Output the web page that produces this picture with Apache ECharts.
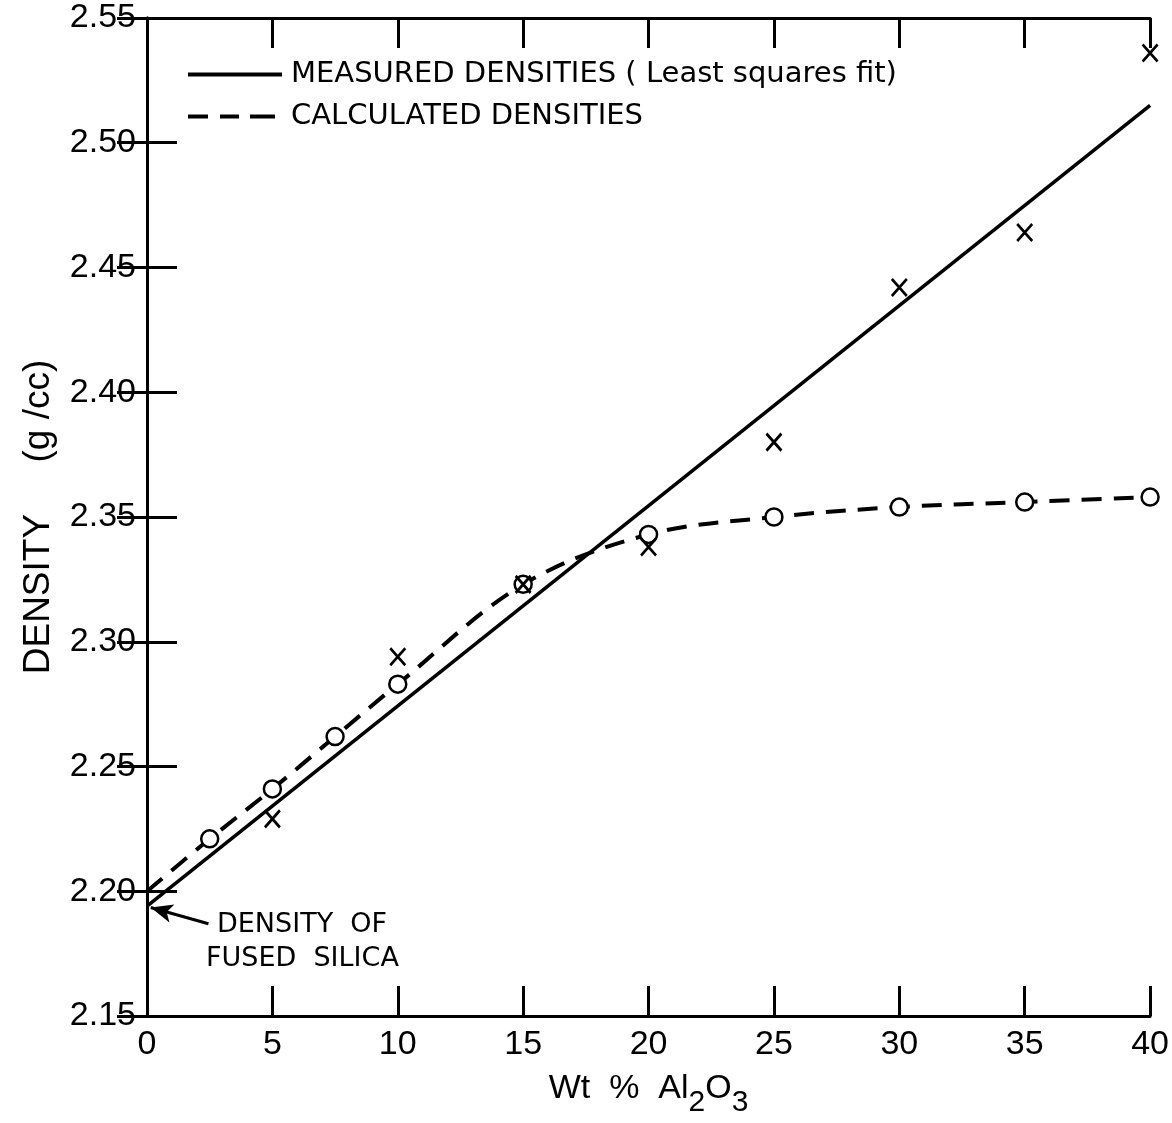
<!DOCTYPE html>
<html>
<head>
<meta charset="utf-8">
<title>Density vs Wt % Al2O3</title>
<script src="https://cdn.jsdelivr.net/npm/echarts@6/dist/echarts.min.js"></script>
<style>
  html, body { margin: 0; padding: 0; background: #fff; }
  #chart { width: 1172px; height: 1123px; }
</style>
</head>
<body>
<div id="chart"></div>
<script>
// wt % Al2O3 and density (g/cc)
var fitX = [0, 40]
var fitY = [2.194, 2.515]
var measuredX = [5, 10, 15, 20, 25, 30, 35, 40]
var measuredY = [2.229, 2.294, 2.323, 2.338, 2.380, 2.442, 2.464, 2.536]
var calcX = [0, 2.5, 5, 7.5, 10, 15, 20, 25, 30, 35, 40]
var calcY = [2.200, 2.221, 2.241, 2.262, 2.283, 2.323, 2.343, 2.350, 2.354, 2.356, 2.358]

var FONT = 'Liberation Sans'
var FONT2 = 'DejaVu Sans'
var myChart = echarts.init(document.getElementById('chart'))

function pairs (xs, ys) {
  return xs.map(function (x, i) { return [x, ys[i]] })
}

var calcPts = pairs(calcX, calcY)
// first point = fused silica start of the curve, no circle there
var calcMarks = calcPts.slice(1)

var axisLine = { show: true, lineStyle: { color: '#000', width: 3 } }
var tick = { show: true, inside: true, length: 30, lineStyle: { color: '#000', width: 3 } }

// legend keys drawn as plain paths (solid bar / three dashes)
var solidIcon = 'path://M0,0h94v4h-94z'
var dashIcon = 'path://M0,0h20v4h-20zM32,0h19v4h-19zM62,0h25v4h-25zM94,0h0v4h0z'

var option = {
  backgroundColor: '#fff',
  animation: false,
  grid: {
    left: 147,
    right: 16,
    top: 18,
    bottom: 105,
    show: false
  },
  legend: {
    left: 183,
    top: 55,
    orient: 'vertical',
    itemWidth: 94,
    itemHeight: 4,
    itemGap: 13,
    symbolKeepAspect: false,
    data: [
      { name: 'MEASURED DENSITIES ( Least squares fit)', icon: solidIcon, itemStyle: { color: '#000' } },
      { name: 'CALCULATED DENSITIES', icon: dashIcon, itemStyle: { color: '#000' } }
    ],
    textStyle: { fontFamily: FONT2, fontSize: 29, color: '#000', padding: [0, 0, 0, 4] }
  },
  xAxis: [{
    type: 'value',
    min: 0,
    max: 40,
    interval: 5,
    position: 'bottom',
    name: '{n|Wt  %  Al}{s|2}{n|O}{s|3}',
    nameLocation: 'middle',
    nameGap: 56,
    nameTextStyle: {
      rich: {
        n: { fontFamily: FONT, fontSize: 34, color: '#000', verticalAlign: 'bottom' },
        s: { fontFamily: FONT, fontSize: 30, color: '#000', padding: [0, 0, -12, 0], verticalAlign: 'bottom' }
      }
    },
    axisLine: axisLine,
    axisTick: tick,
    splitLine: { show: false },
    axisLabel: {
      margin: 12,
      fontFamily: FONT,
      fontSize: 34,
      color: '#000',
      showMaxLabel: true,
      showMinLabel: true
    }
  }, {
    type: 'value',
    min: 0,
    max: 40,
    interval: 5,
    position: 'top',
    axisLine: axisLine,
    axisTick: tick,
    splitLine: { show: false },
    axisLabel: { show: false }
  }],
  yAxis: [{
    type: 'value',
    min: 2.15,
    max: 2.55,
    interval: 0.05,
    position: 'left',
    name: 'DENSITY     (g /cc)',
    nameLocation: 'middle',
    nameGap: 90,
    nameTextStyle: { fontFamily: FONT, fontSize: 37, color: '#000' },
    axisLine: axisLine,
    axisTick: tick,
    splitLine: { show: false },
    axisLabel: {
      margin: 11,
      fontFamily: FONT,
      fontSize: 34,
      color: '#000',
      formatter: function (v) { return v.toFixed(2) }
    }
  }, {
    type: 'value',
    min: 2.15,
    max: 2.55,
    interval: 0.05,
    position: 'right',
    axisLine: axisLine,
    axisTick: tick,
    splitLine: { show: false },
    axisLabel: { show: false }
  }],
  series: [{
    name: 'MEASURED DENSITIES ( Least squares fit)',
    type: 'line',
    data: pairs(fitX, fitY),
    showSymbol: false,
    symbol: 'none',
    itemStyle: { color: '#000' },
    lineStyle: { color: '#000', width: 3.5, type: 'solid' },
    z: 3,
    markLine: {
      silent: true,
      symbol: ['none', 'arrow'],
      symbolSize: [14, 22],
      label: { show: false },
      lineStyle: { color: '#000', width: 3, type: 'solid' },
      data: [[{ coord: [2.45, 2.187] }, { coord: [0.15, 2.1935] }]]
    }
  }, {
    name: 'CALCULATED DENSITIES',
    type: 'line',
    data: calcPts,
    smooth: 0.35,
    showSymbol: false,
    symbol: 'none',
    itemStyle: { color: '#000' },
    lineStyle: { color: '#000', width: 4, type: [20, 12] },
    z: 3
  }, {
    name: 'calc points',
    type: 'scatter',
    data: calcMarks,
    symbol: 'circle',
    symbolSize: 17,
    itemStyle: { color: '#fff', borderColor: '#000', borderWidth: 2.5, opacity: 1 },
    z: 4
  }, {
    name: 'measured points',
    type: 'scatter',
    data: pairs(measuredX, measuredY),
    symbol: 'path://M0,0L14,16M14,0L0,16',
    symbolSize: [15, 17],
    itemStyle: { color: 'none', borderColor: '#000', borderWidth: 2.8, opacity: 1 },
    z: 5
  }],
  graphic: [{
    type: 'text',
    left: 217,
    top: 911,
    style: { text: 'DENSITY  OF', fontFamily: FONT2, fontSize: 27, fill: '#000' }
  }, {
    type: 'text',
    left: 206,
    top: 945,
    style: { text: 'FUSED  SILICA', fontFamily: FONT2, fontSize: 27, fill: '#000' }
  }]
}
myChart.setOption(option)
</script>
</body>
</html>
